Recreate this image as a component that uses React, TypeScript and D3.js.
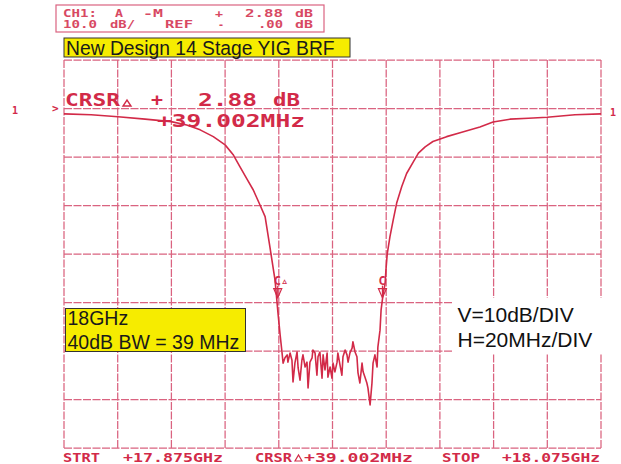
import * as d3 from 'd3'

// sweep: 17.875 GHz .. 18.075 GHz, 20 MHz/div; 10 dB/div, REF 0 dB on first line
const freqMHz = [
  17875.0, 17885.1, 17895.1, 17905.2, 17914.9, 17920.7, 17925.7, 17930.6, 17935.0, 17938.1,
  17940.5, 17943.0, 17945.5, 17948.0, 17949.9, 17951.7, 17953.6, 17954.7, 17955.5,
  17956.1, 17956.6, 17957.3, 17958.1, 17958.4, 17959.2, 17959.9, 17960.3, 17961.0, 17961.8,
  17962.2, 17962.9, 17963.6, 17964.0, 17964.8, 17965.5, 17965.9, 17966.6, 17967.4, 17967.7,
  17968.5, 17969.2, 17969.6, 17970.3, 17971.1, 17971.5, 17972.2, 17973.0, 17973.3, 17974.1,
  17974.8, 17975.2, 17975.9, 17976.7, 17977.0, 17977.8, 17978.5, 17978.9, 17979.7, 17980.4,
  17980.8, 17981.5, 17982.3, 17982.6, 17983.4, 17984.1, 17984.5, 17985.2, 17986.0, 17986.4,
  17987.1, 17987.8, 17988.2, 17989.0, 17989.7, 17990.1, 17990.8, 17991.6, 17991.9,
  17992.7, 17993.1, 17993.8, 17994.6, 17994.9, 17995.4, 17996.4, 17997.6, 17998.9, 18000.8,
  18002.6, 18005.1, 18007.0, 18009.5, 18012.4, 18017.5, 18022.5, 18029.9, 18034.8, 18041.1,
  18048.0, 18054.9, 18065.3, 18075.0,
]
const levelDb = [
  -1.1, -1.3, -1.7, -2.2, -2.7, -3.4, -4.4, -5.8, -7.5, -9.6,
  -12.0, -14.4, -16.8, -19.9, -22.3, -28.6, -35.4, -42.2, -46.7,
  -49.8, -52.5, -51.4, -50.8, -52.3, -50.4, -51.9, -56.4, -52.5, -50.2,
  -53.5, -56.0, -51.9, -50.8, -53.3, -52.3, -57.6, -52.3, -51.4, -49.8,
  -50.4, -55.0, -51.2, -50.2, -55.6, -50.8, -53.9, -50.4, -55.4, -53.3,
  -55.6, -52.5, -54.3, -52.3, -50.4, -52.9, -55.0, -51.2, -49.8, -50.8,
  -52.3, -50.4, -49.4, -48.1, -50.2, -51.2, -54.5, -56.6, -52.5, -54.3,
  -55.4, -56.6, -57.6, -61.1, -56.6, -52.5, -50.8, -53.3, -49.2,
  -45.7, -41.5, -38.5, -36.0, -33.3, -29.9, -26.4, -23.0, -19.5, -16.1,
  -13.4, -11.0, -9.2, -7.9, -6.8, -5.8, -5.0, -3.8, -2.8, -2.2,
  -2.0, -1.8, -1.3, -1.1,
]

const xTicks = d3.range(17875, 18076, 20)
const yTicks = d3.range(-70, 11, 10)

const markerFreqs = [17954.6, 17993.6]
const markerLabels = ['C\u25B5', 'C']
const markerDb = -39

const titleText = 'New Design 14 Stage YIG BRF'
const noteLines = ['18GHz', '40dB BW = 39 MHz']
const scaleLines = ['V=10dB/DIV', 'H=20MHz/DIV']

const W = 621
const H = 464
const left = 64
const right = 601
const top = 60
const bottom = 448

const red = '#d22a48'
const gridRed = '#d4486a'
const mono = '"DejaVu Sans Mono", monospace'
const sans = 'Arial, "Liberation Sans", sans-serif'

function Plot({ x, y, s, w, fs, bold = true }: any) {
  return (
    <text
      x={x}
      y={y}
      fontFamily={mono}
      fontSize={fs}
      fontWeight={bold ? 'bold' : 'normal'}
      fill={red}
      textLength={w}
      lengthAdjust="spacingAndGlyphs"
    >
      {s}
    </text>
  )
}

export default function App() {
  const x = d3.scaleLinear().domain([17875, 18075]).range([left, right])
  const y = d3.scaleLinear().domain([-70, 10]).range([bottom, top])
  const data = freqMHz.map((f, i) => [f, levelDb[i]] as [number, number])
  const line = d3
    .line<[number, number]>()
    .x((d) => x(d[0]))
    .y((d) => y(d[1]))
    .curve(d3.curveLinear)

  return (
    <svg
      width={W}
      height={H}
      style={{ position: 'absolute', left: 0, top: 0, background: '#fff' }}
    >
      <rect width={W} height={H} fill="#fff" />

      {/* grid */}
      <g stroke={gridRed} strokeWidth={1.25} strokeDasharray="8 1.5" opacity={0.85}>
        {xTicks.map((t) => (
          <line key={'v' + t} x1={x(t)} x2={x(t)} y1={top} y2={bottom} />
        ))}
        {yTicks.map((t) => (
          <line key={'h' + t} x1={left} x2={right} y1={y(t)} y2={y(t)} />
        ))}
      </g>

      {/* header box */}
      <rect x={56} y={5} width={268} height={27} fill="none" stroke={gridRed} strokeWidth={1.2} opacity={0.85} />
      <g opacity={0.85}>
        <Plot x={63} y={17.3} s="CH1:" w={34} fs={10.5} />
        <Plot x={115} y={17.3} s="A" w={8} fs={10.5} />
        <Plot x={143} y={17.3} s="-M" w={20} fs={10.5} />
        <Plot x={215} y={17.3} s="+" w={8} fs={10.5} />
        <Plot x={245} y={17.3} s="2.88" w={38} fs={10.5} />
        <Plot x={295} y={17.3} s="dB" w={18} fs={10.5} />
        <Plot x={63} y={28.3} s="10.0" w={34} fs={10.5} />
        <Plot x={110} y={28.3} s="dB/" w={25} fs={10.5} />
        <Plot x={165} y={28.3} s="REF" w={28} fs={10.5} />
        <Plot x={218} y={28.3} s="-" w={6} fs={10.5} />
        <Plot x={258} y={28.3} s=".00" w={25} fs={10.5} />
        <Plot x={295} y={28.3} s="dB" w={18} fs={10.5} />
      </g>

      {/* title */}
      <rect x={64} y={38} width={286} height={19} fill="#f6ec00" stroke="#333" strokeWidth={1} />
      <text x={66} y={54.5} fontFamily={sans} fontSize={19.3} fill="#1a1a1a">
        {titleText}
      </text>

      {/* reference markers */}
      <text x={12} y={114} fontFamily={mono} fontSize={10} fontWeight="bold" fill={red}>1</text>
      <text x={52} y={112} fontFamily={mono} fontSize={11} fontWeight="bold" fill={red}>&gt;</text>
      <text x={610} y={116} fontFamily={mono} fontSize={10} fontWeight="bold" fill={red}>1</text>

      {/* cursor readout */}
      <Plot x={65} y={106} s="CRSR" w={55} fs={17} />
      <path d="M123,106 L131,106 L127,100 Z" fill="none" stroke={red} strokeWidth={1.4} />
      <Plot x={151} y={106} s="+" w={12} fs={17} />
      <Plot x={198} y={106} s="2.88" w={59} fs={17} />
      <Plot x={273} y={106} s="dB" w={27} fs={17} />
      <Plot x={157} y={127} s="+39.002MHz" w={148} fs={17} />

      {/* trace */}
      <path d={line(data) ?? ''} fill="none" stroke={red} strokeWidth={1.6} strokeLinejoin="round" />

      {/* cursor markers */}
      {markerFreqs.map((f, i) => {
        const mx = x(f)
        const my = y(markerDb)
        return (
          <g key={'m' + i} stroke={red} fill="none" strokeWidth={1.2}>
            <line x1={mx} x2={mx} y1={my - 12} y2={my} />
            <path d={`M${mx - 4},${my - 9} L${mx + 4},${my - 9} L${mx},${my} Z`} />
            <text
              x={mx - 4}
              y={my - 12.5}
              fontFamily={mono}
              fontSize={12}
              fontWeight="bold"
              fill={red}
              stroke="none"
            >
              {markerLabels[i]}
            </text>
          </g>
        )
      })}

      {/* note box */}
      <rect x={65.5} y={308.5} width={180} height={43} fill="#f6ec00" stroke="#333" strokeWidth={1} />
      {noteLines.map((s, i) => (
        <text key={s} x={67.5} y={325 + i * 24} fontFamily={sans} fontSize={19.5} fill="#1a1a1a">
          {s}
        </text>
      ))}

      {/* scale box */}
      <rect x={453} y={298} width={160} height={56} fill="#fff" />
      {scaleLines.map((s, i) => (
        <text key={s} x={457.5} y={321.5 + i * 25} fontFamily={sans} fontSize={21} fill="#111">
          {s}
        </text>
      ))}

      {/* bottom annotation */}
      <Plot x={63} y={461.5} s="STRT" w={37} fs={12} />
      <Plot x={123} y={461.5} s="+17.875GHz" w={100} fs={12} />
      <Plot x={255} y={461.5} s="CRSR" w={37} fs={12} />
      <path d="M295,461 L302,461 L298.5,455 Z" fill="none" stroke={red} strokeWidth={1.2} />
      <Plot x={304} y={461.5} s="+39.002MHz" w={109} fs={12} />
      <Plot x={442} y={461.5} s="STOP" w={38} fs={12} />
      <Plot x={502} y={461.5} s="+18.075GHz" w={98} fs={12} />
    </svg>
  )
}
